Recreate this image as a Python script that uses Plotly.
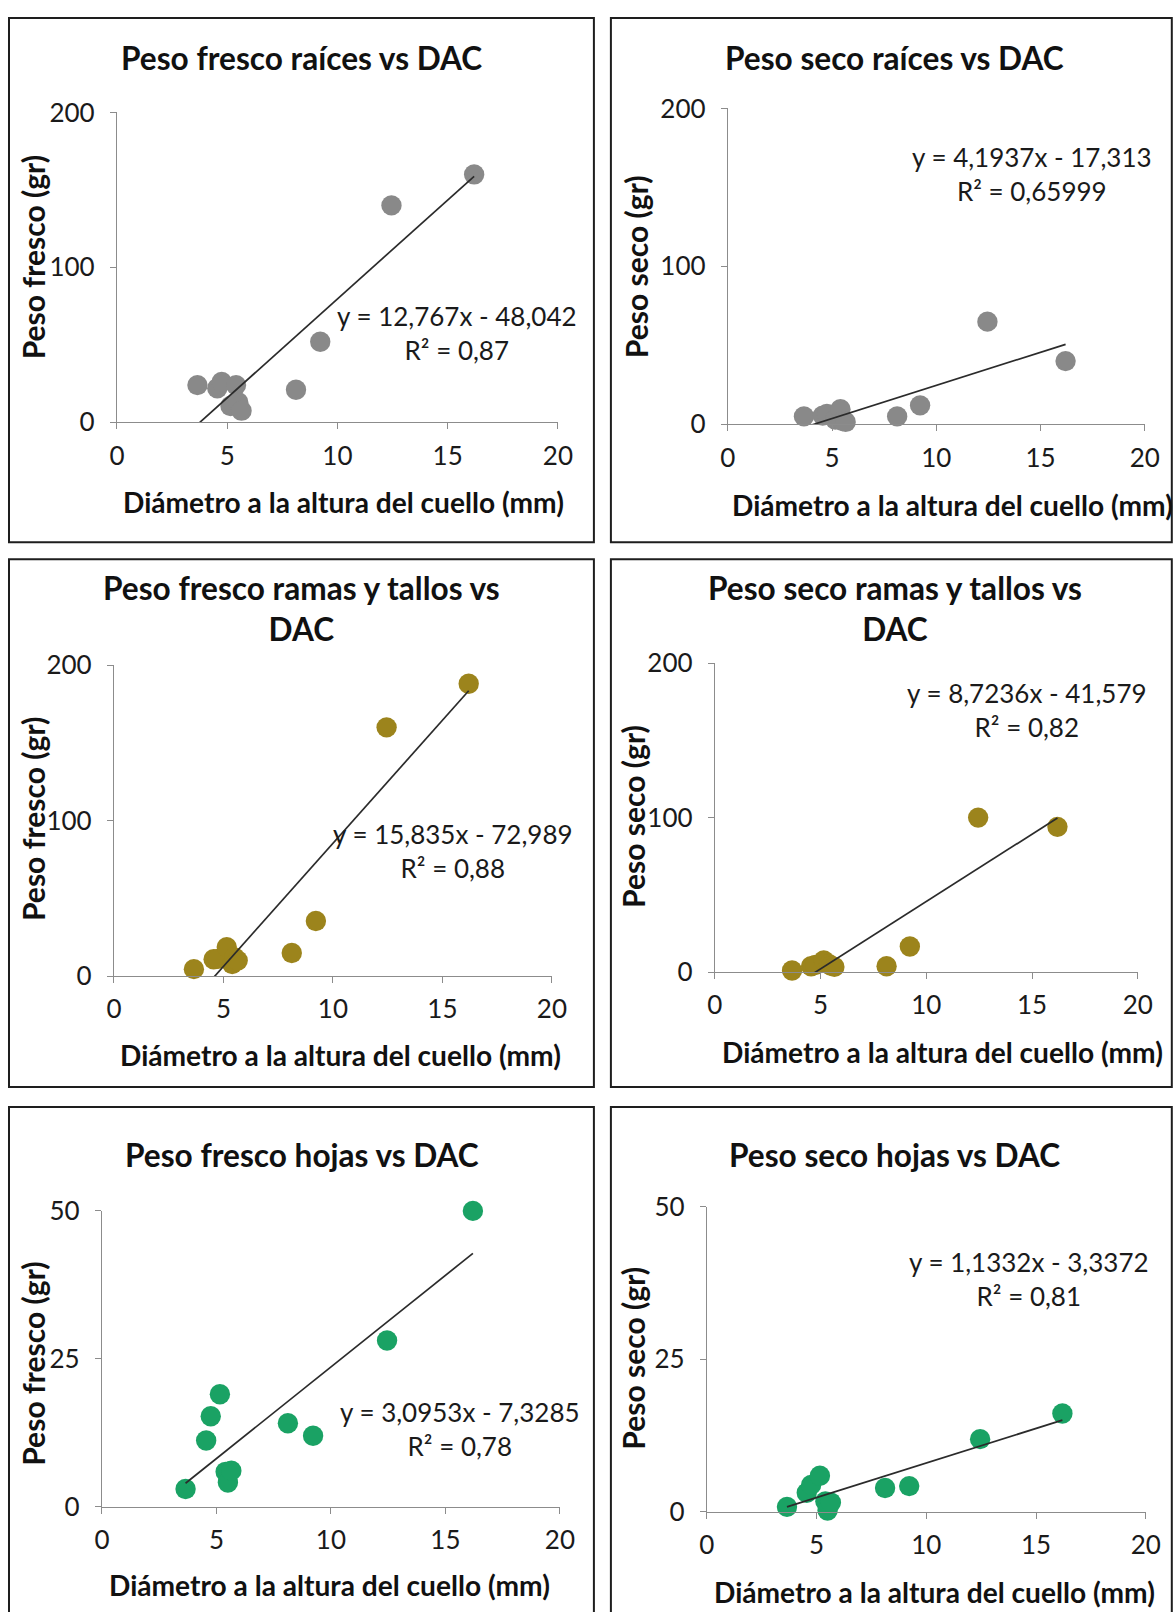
import plotly.graph_objects as go

# The page renders the figure slightly scaled and offset; positions below are
# given in target-image pixels and mapped into figure pixels.
S = 0.981
OFFX, OFFY = 6.0, 15.5
W, H = 1200, 1640

# ---------------- data ----------------
dac = [3.65, 4.55, 4.75, 5.15, 5.4, 5.5, 5.65, 8.12, 9.22, 12.45, 16.2]

fresh_roots = [24, 22, 26, 10.5, 24, 13, 7.5, 21, 52, 140, 160]
dry_roots = [5, 5.5, 6.5, 3, 9.5, 2, 1.5, 5, 12, 65, 40]
fresh_branches = [4.4, 10.8, 11, 18.6, 7.7, 12, 10, 14.8, 35.4, 160, 188]
dry_branches = [1, 3.7, 4.5, 7.5, 5, 4, 3.3, 3.7, 16.5, 100, 94]
fresh_leaves = [3, 11.2, 15.3, 19, 5.9, 4.1, 6.1, 14.1, 12, 28.1, 50]
dry_leaves = [0.8, 3.1, 4.4, 5.9, 1.7, 0.2, 1.5, 3.9, 4.2, 11.9, 16.1]

titles = [
    "Peso fresco raíces vs DAC",
    "Peso seco raíces vs DAC",
    "Peso fresco ramas y tallos vs<br>DAC",
    "Peso seco ramas y tallos vs<br>DAC",
    "Peso fresco hojas vs DAC",
    "Peso seco hojas vs DAC",
]
y_titles = ["Peso fresco (gr)", "Peso seco (gr)", "Peso fresco (gr)",
            "Peso seco (gr)", "Peso fresco (gr)", "Peso seco (gr)"]
x_title = "Diámetro a la altura del cuello (mm)"
slopes = [12.767, 4.1937, 15.835, 8.7236, 3.0953, 1.1332]
intercepts = [-48.042, -17.313, -72.989, -41.579, -7.3285, -3.3372]
eq_labels = ["y = 12,767x - 48,042", "y = 4,1937x - 17,313", "y = 15,835x - 72,989",
             "y = 8,7236x - 41,579", "y = 3,0953x - 7,3285", "y = 1,1332x - 3,3372"]
r2_labels = ["R² = 0,87", "R² = 0,65999", "R² = 0,88", "R² = 0,82", "R² = 0,78", "R² = 0,81"]
y_ticks = [[0, 100, 200], [0, 100, 200], [0, 100, 200], [0, 100, 200], [0, 25, 50], [0, 25, 50]]
x_ticks = [0, 5, 10, 15, 20]

series = [fresh_roots, dry_roots, fresh_branches, dry_branches, fresh_leaves, dry_leaves]
colors = ["#898989", "#898989", "#9c841c", "#9c841c", "#1aa264", "#1aa264"]

# ---------------- layout geometry (target pixels) ----------------
plot_px = [
    (115, 556, 111, 421),
    (726, 1143, 107, 423),
    (112, 550, 664, 975),
    (713, 1136, 662, 971),
    (100, 558, 1210, 1506),
    (705, 1144, 1206, 1511),
]
panels_px = [
    (7, 592, 8, 541),
    (609, 1170, 8, 541),
    (7, 592, 558, 1086),
    (609, 1170, 558, 1086),
    (7, 592, 1106, 1660),
    (609, 1170, 1106, 1660),
]
title_pos = [(300, 57), (893, 57), (300, 607), (893, 607), (300, 1154), (893, 1154)]
xtitle_pos = [(342, 501), (951, 504), (339, 1054), (941, 1051), (328, 1584), (933, 1591)]
ytitle_pos = [(31, 256), (634, 265), (31, 818), (631, 815), (31, 1363), (631, 1357)]
eq_pos = [(455, 315), (1030, 156), (451, 833), (1025, 692), (458, 1411), (1027, 1261)]


def fx(p):
    return (p - OFFX) / S


def fy(p):
    return (p - OFFY) / S


def px_x(p):
    return fx(p) / W


def px_y(p):
    return 1 - fy(p) / H


def fs(size):
    return size / S


FONT = "Lato, 'Open Sans', sans-serif"
fig = go.Figure()
annotations = []
shapes = []

for i in range(6):
    n = i + 1
    xa = "x" if n == 1 else f"x{n}"
    ya = "y" if n == 1 else f"y{n}"
    ys = series[i]
    x0, x1 = min(dac), max(dac)
    fig.add_trace(go.Scatter(
        x=dac, y=ys, mode="markers", xaxis=xa, yaxis=ya, cliponaxis=False,
        marker=dict(size=fs(20), color=colors[i], line=dict(width=0)),
        showlegend=False, hoverinfo="x+y",
    ))
    fig.add_trace(go.Scatter(
        x=[x0, x1], y=[slopes[i] * x0 + intercepts[i], slopes[i] * x1 + intercepts[i]],
        mode="lines", xaxis=xa, yaxis=ya,
        line=dict(color="#2b2b2b", width=1.7),
        showlegend=False, hoverinfo="skip",
    ))
    xl, xr, yt, yb = plot_px[i]
    axis_common = dict(
        showline=True, linecolor="#8c8c8c", linewidth=1.2,
        ticks="outside", ticklen=6, tickwidth=1.2, tickcolor="#8c8c8c",
        showgrid=False, zeroline=False,
        tickfont=dict(family=FONT, size=fs(25.5), color="#1a1a1a"),
        fixedrange=True,
    )
    fig.update_layout(**{
        ("xaxis" if n == 1 else f"xaxis{n}"): dict(
            domain=[px_x(xl), px_x(xr)], range=[0, 20], anchor=ya,
            tickvals=x_ticks, ticklabelstandoff=4, **axis_common),
        ("yaxis" if n == 1 else f"yaxis{n}"): dict(
            domain=[px_y(yb), px_y(yt)], range=[0, y_ticks[i][-1]], anchor=xa,
            tickvals=y_ticks[i], ticklabelstandoff=10, **axis_common),
    })
    pl, pr, pt, pb = panels_px[i]
    top = max(px_y(pt), px_y(pt) if fy(pt) > 1 else 1 - 1.0 / H)
    shapes.append(dict(type="rect", xref="paper", yref="paper",
                       x0=max(px_x(pl), 1.0 / W), x1=px_x(pr), y0=px_y(pb),
                       y1=min(px_y(pt), 1 - 1.0 / H),
                       line=dict(color="#1e1e1e", width=2), fillcolor="rgba(0,0,0,0)",
                       layer="below"))
    tx, ty = title_pos[i]
    annotations.append(dict(text=f"<b>{titles[i]}</b>", x=px_x(tx), y=px_y(ty),
                            xref="paper", yref="paper", showarrow=False,
                            xanchor="center", yanchor="middle",
                            font=dict(family=FONT, size=fs(31), color="#111")))
    ax_, ay_ = xtitle_pos[i]
    annotations.append(dict(text=f"<b>{x_title}</b>", x=px_x(ax_), y=px_y(ay_),
                            xref="paper", yref="paper", showarrow=False,
                            xanchor="center", yanchor="middle",
                            font=dict(family=FONT, size=fs(27.6), color="#111")))
    bx, by = ytitle_pos[i]
    annotations.append(dict(text=f"<b>{y_titles[i]}</b>", x=px_x(bx), y=px_y(by),
                            xref="paper", yref="paper", showarrow=False, textangle=-90,
                            xanchor="center", yanchor="middle",
                            font=dict(family=FONT, size=fs(29.5), color="#111")))
    ex, ey = eq_pos[i]
    annotations.append(dict(text=f"{eq_labels[i]}<br>{r2_labels[i]}", x=px_x(ex), y=px_y(ey + 17),
                            xref="paper", yref="paper", showarrow=False,
                            xanchor="center", yanchor="middle", align="center",
                            font=dict(family=FONT, size=fs(25.5), color="#1a1a1a")))

fig.update_layout(
    width=W, height=H, margin=dict(l=0, r=0, t=0, b=0),
    paper_bgcolor="white", plot_bgcolor="white",
    annotations=annotations, shapes=shapes, showlegend=False,
)

fig.write_html("out.html", config={"displayModeBar": False})
